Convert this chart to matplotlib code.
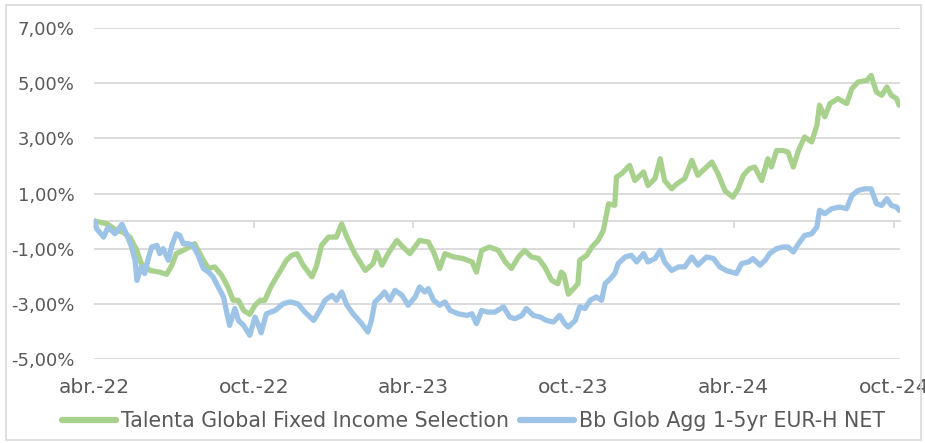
import numpy as np
import pandas as pd
import matplotlib
matplotlib.use("Agg")
import matplotlib.pyplot as plt
import matplotlib.dates as mdates
from matplotlib.patches import Rectangle

# ================= DATA ================= #
START = pd.Timestamp("2022-04-01")

# days since START, cumulative return in %
green_days = [1, 15, 26, 33, 41, 49, 54, 64, 75, 83, 89, 94, 102, 112, 115, 125, 131, 138, 146, 153,
              159, 165, 171, 178, 184, 190, 195, 203, 211, 220, 226, 232, 239, 249, 254, 260, 268, 277, 283, 289,
              298, 310, 319, 323, 329, 336, 346, 353, 361, 372, 382, 388, 395, 401, 411, 422, 432, 437, 443, 452,
              462, 470, 477, 485, 492, 500, 508, 515, 523, 530, 534, 537, 542, 548, 553, 555, 563, 569, 576, 582,
              588, 595, 597, 603, 612, 618, 628, 633, 641, 647, 652, 660, 666, 675, 683, 690, 700, 706, 713, 721,
              725, 730, 736, 742, 749, 755, 763, 770, 774, 780, 787, 793, 799, 805, 812, 820, 826, 829, 835, 841,
              850, 860, 866, 873, 883, 888, 894, 900, 906, 911, 917, 920]
green_vals = [0.00, -0.10, -0.34, -0.40, -0.58, -1.06, -1.54, -1.79, -1.85, -1.93, -1.60, -1.18, -1.06, -0.88, -0.82, -1.42, -1.72, -1.66, -1.97, -2.39,
              -2.87, -2.87, -3.24, -3.38, -3.05, -2.87, -2.88, -2.33, -1.90, -1.42, -1.24, -1.18, -1.60, -2.02, -1.66, -0.88, -0.58, -0.58, -0.10, -0.58,
              -1.18, -1.79, -1.54, -1.12, -1.60, -1.18, -0.70, -0.94, -1.18, -0.70, -0.76, -1.12, -1.72, -1.18, -1.30, -1.36, -1.48, -1.85, -1.06, -0.94,
              -1.06, -1.48, -1.72, -1.30, -1.06, -1.30, -1.36, -1.66, -2.15, -2.27, -1.85, -1.95, -2.65, -2.45, -2.27, -1.42, -1.24, -0.94, -0.70, -0.34,
              0.63, 0.57, 1.60, 1.72, 2.02, 1.47, 1.78, 1.29, 1.54, 2.26, 1.47, 1.17, 1.35, 1.54, 2.20, 1.66, 1.96, 2.14, 1.72, 1.10,
              0.99, 0.87, 1.17, 1.66, 1.90, 1.96, 1.47, 2.26, 1.96, 2.56, 2.56, 2.50, 1.96, 2.56, 3.05, 2.87, 3.47, 4.20, 3.78, 4.26,
              4.44, 4.26, 4.80, 5.04, 5.10, 5.28, 4.68, 4.56, 4.86, 4.56, 4.44, 4.20]

blue_days = [1, 3, 11, 16, 24, 32, 37, 43, 47, 49, 54, 58, 62, 66, 72, 75, 79, 85, 89, 94,
             98, 102, 108, 113, 119, 125, 131, 136, 142, 148, 152, 155, 161, 165, 171, 178, 184, 188, 191, 197,
             207, 216, 224, 233, 241, 251, 258, 264, 272, 277, 283, 289, 296, 306, 313, 317, 321, 327, 332, 338,
             344, 352, 359, 367, 372, 378, 382, 388, 395, 401, 407, 416, 426, 432, 437, 443, 450, 458, 468, 475,
             481, 489, 494, 502, 510, 517, 525, 532, 538, 542, 550, 555, 561, 567, 574, 580, 584, 590, 595, 599,
             607, 614, 620, 628, 633, 641, 647, 652, 660, 668, 675, 683, 690, 700, 708, 715, 723, 729, 734, 740,
             748, 753, 761, 767, 772, 780, 787, 793, 799, 805, 812, 820, 826, 829, 835, 843, 852, 860, 866, 873,
             881, 888, 894, 900, 906, 911, 917, 920]
blue_vals = [0.00, -0.28, -0.58, -0.22, -0.46, -0.12, -0.46, -0.94, -1.42, -2.15, -1.66, -1.90, -1.36, -0.94, -0.88, -1.18, -1.00, -1.42, -0.88, -0.46,
             -0.52, -0.82, -0.82, -0.88, -1.24, -1.72, -1.85, -2.02, -2.39, -2.75, -3.36, -3.78, -3.17, -3.60, -3.78, -4.14, -3.48, -3.78, -4.05, -3.36,
             -3.24, -3.00, -2.93, -3.00, -3.30, -3.60, -3.24, -2.87, -2.69, -2.87, -2.57, -3.05, -3.36, -3.72, -4.02, -3.60, -2.93, -2.75, -2.57, -2.87,
             -2.51, -2.69, -3.05, -2.75, -2.39, -2.57, -2.45, -2.87, -3.05, -2.93, -3.24, -3.36, -3.42, -3.36, -3.72, -3.24, -3.30, -3.30, -3.11, -3.48,
             -3.54, -3.42, -3.17, -3.42, -3.48, -3.60, -3.66, -3.42, -3.72, -3.84, -3.60, -3.11, -3.17, -2.87, -2.75, -2.87, -2.27, -2.09, -1.90, -1.54,
             -1.30, -1.24, -1.48, -1.18, -1.48, -1.36, -1.06, -1.48, -1.79, -1.66, -1.66, -1.30, -1.60, -1.30, -1.36, -1.66, -1.80, -1.85, -1.90, -1.54,
             -1.48, -1.36, -1.60, -1.42, -1.18, -1.00, -0.94, -0.94, -1.12, -0.82, -0.52, -0.46, -0.22, 0.39, 0.27, 0.45, 0.51, 0.45, 0.93, 1.11,
             1.17, 1.17, 0.63, 0.57, 0.81, 0.57, 0.51, 0.39]

series_names = ["Talenta Global Fixed Income Selection", "Bb Glob Agg 1-5yr EUR-H NET"]
series_colors = ["#A9D18E", "#9DC3E6"]

tick_dates = ["2022-04-01", "2022-10-01", "2023-04-01", "2023-10-01", "2024-04-01", "2024-10-01"]
tick_labels = ["abr.-22", "oct.-22", "abr.-23", "oct.-23", "abr.-24", "oct.-24"]
y_ticks = [-5, -3, -1, 1, 3, 5, 7]
END_DAY = 921

# ================= PLOT ================= #
TEXT = "#595959"
GRID = "#D9D9D9"
plt.rcParams["font.family"] = ["DejaVu Sans"]

fig = plt.figure(figsize=(9.25, 4.43), dpi=100)
ax = fig.add_axes([0.1016, 0.1896, 0.8714, 0.7472])

green_x = START + pd.to_timedelta(green_days, unit="D")
blue_x = START + pd.to_timedelta(blue_days, unit="D")

ax.plot(green_x, green_vals, color=series_colors[0], lw=3.8, label=series_names[0],
        solid_capstyle="round", solid_joinstyle="round")
ax.plot(blue_x, blue_vals, color=series_colors[1], lw=3.8, label=series_names[1],
        solid_capstyle="round", solid_joinstyle="round")

ymin, ymax = -5, 7
ax.set_ylim(ymin, ymax)
ax.set_xlim(START, START + pd.Timedelta(days=END_DAY))

ax.set_yticks(y_ticks)
ax.set_yticklabels([f"{v:.2f}%".replace(".", ",") for v in y_ticks])
ax.yaxis.grid(True, color=GRID, lw=1.3)
ax.set_axisbelow(True)

tick_pos = mdates.date2num(pd.to_datetime(tick_dates))
ax.set_xticks(tick_pos)
ax.set_xticklabels(tick_labels)
ax.tick_params(axis="both", length=0, colors=TEXT)
ax.tick_params(axis="y", pad=14, labelsize=13)
ax.tick_params(axis="x", pad=14, labelsize=14.5)
for s in ax.spines.values():
    s.set_visible(False)

# horizontal axis line at 0 with its tick marks
zero_ax = ax.secondary_xaxis((0 - ymin) / (ymax - ymin))
zero_ax.set_xticks(tick_pos)
zero_ax.tick_params(length=5, width=1.3, color=GRID, labelbottom=False, direction="out")
zero_ax.spines["bottom"].set_color(GRID)
zero_ax.spines["bottom"].set_linewidth(1.3)

leg = fig.legend(loc="center", bbox_to_anchor=(0.512, 0.05), ncol=2, frameon=False,
                 fontsize=14.8, handlelength=2.6, handletextpad=0.25, columnspacing=0.55)
for t in leg.get_texts():
    t.set_color(TEXT)
for h in leg.get_lines():
    h.set_linewidth(4.5)

fig.patches.append(Rectangle((6 / 925, 3 / 443), 915 / 925, 435 / 443, transform=fig.transFigure,
                             fill=False, edgecolor=GRID, lw=1.2))

fig.savefig("out.png", dpi=100)
